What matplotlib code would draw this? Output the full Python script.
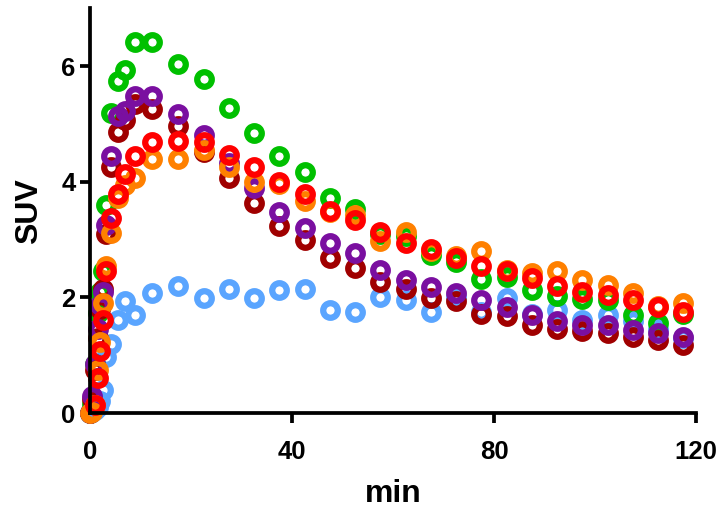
import numpy as np
import matplotlib
matplotlib.use("Agg")
import matplotlib.pyplot as plt

plt.rcParams['font.family'] = ['Liberation Sans', 'DejaVu Sans']
plt.rcParams['font.weight'] = 'bold'

# frame mid-times (min)
time_min = [0, 0.5, 1.0, 1.5, 2.0, 2.5, 3.25, 4.25, 5.5, 7.0, 9.0, 12.25,
            17.5, 22.5, 27.5, 32.5, 37.5, 42.5, 47.5, 52.5, 57.5, 62.5,
            67.5, 72.5, 77.5, 82.5, 87.5, 92.5, 97.5, 102.5, 107.5, 112.5, 117.5]

suv_blue = [0.0, 0.02, 0.05, 0.10, 0.20, 0.39, 0.97, 1.20, 1.61, 1.93, 1.70, 2.07,
            2.20, 1.99, 2.14, 1.99, 2.12, 2.14, 1.78, 1.75, 2.01, 1.96,
            1.75, 2.00, 1.75, 1.99, 1.72, 1.78, 1.61, 1.70, 1.60, 1.45, 1.30]

suv_green = [0.0, 0.15, 0.85, 1.73, 2.10, 2.45, 3.60, 5.19, 5.74, 5.93, 6.42, 6.42,
             6.03, 5.77, 5.27, 4.84, 4.45, 4.17, 3.72, 3.53, 3.10, 3.06,
             2.74, 2.62, 2.32, 2.36, 2.13, 2.02, 1.98, 1.96, 1.70, 1.55, 1.72]

suv_darkred = [0.0, 0.25, 0.75, 1.30, 1.80, 2.15, 3.09, 4.25, 4.86, 5.06, 5.35, 5.26,
               4.97, 4.51, 4.07, 3.63, 3.23, 3.00, 2.68, 2.51, 2.27, 2.14,
               1.99, 1.93, 1.72, 1.67, 1.52, 1.46, 1.41, 1.39, 1.32, 1.26, 1.17]

suv_purple = [0.0, 0.30, 0.85, 1.46, 1.87, 2.10, 3.25, 4.45, 5.14, 5.23, 5.48, 5.49,
              5.17, 4.80, 4.33, 3.90, 3.48, 3.20, 2.94, 2.77, 2.48, 2.30,
              2.18, 2.07, 1.96, 1.83, 1.70, 1.60, 1.52, 1.52, 1.43, 1.38, 1.31]

suv_orange = [0.0, 0.02, 0.13, 0.74, 1.23, 1.90, 2.54, 3.12, 3.72, 3.95, 4.07, 4.40,
              4.40, 4.55, 4.25, 3.99, 3.96, 3.67, 3.47, 3.43, 2.97, 3.13,
              2.80, 2.72, 2.80, 2.48, 2.42, 2.45, 2.30, 2.22, 2.07, 1.85, 1.90]

suv_red = [np.nan, np.nan, 0.13, 0.60, 1.08, 1.61, 2.45, 3.38, 3.78, 4.13, 4.45, 4.68,
           4.71, 4.68, 4.46, 4.25, 4.00, 3.78, 3.49, 3.34, 3.13, 2.94,
           2.83, 2.68, 2.55, 2.45, 2.33, 2.19, 2.10, 2.04, 1.96, 1.84, 1.75]

series = [
    (suv_blue, '#5aa5ff'),
    (suv_green, '#00c000'),
    (suv_darkred, '#a00000'),
    (suv_purple, '#7a0fa0'),
    (suv_orange, '#ff8000'),
    (suv_red, '#ff0000'),
]

fig = plt.figure(figsize=(7.25, 5.13), dpi=100)
ax = fig.add_axes([0.1241, 0.1949, 0.836, 0.789])

for values, color in series:
    ax.plot(time_min, values, linestyle='none', marker='o', markersize=10.5,
            markerfacecolor='none', markeredgecolor=color, markeredgewidth=4.5,
            clip_on=False)

ax.set_xlim(0, 120)
ax.set_ylim(0, 7)
ax.set_xticks([0, 40, 80, 120])
ax.set_yticks([0, 2, 4, 6])

for side in ('top', 'right'):
    ax.spines[side].set_visible(False)
for side in ('left', 'bottom'):
    ax.spines[side].set_linewidth(2.7)

ax.tick_params(width=2.7, length=7.5, labelsize=18.5)
ax.tick_params(axis='x', pad=12)
ax.tick_params(axis='y', pad=3)
for lbl in ax.get_xticklabels() + ax.get_yticklabels():
    lbl.set_fontweight('bold')

ax.set_xlabel('min', fontsize=23, fontweight='bold', labelpad=11)
ax.set_ylabel('SUV', fontsize=23, fontweight='bold', labelpad=12)

fig.savefig('out.png', dpi=100)
